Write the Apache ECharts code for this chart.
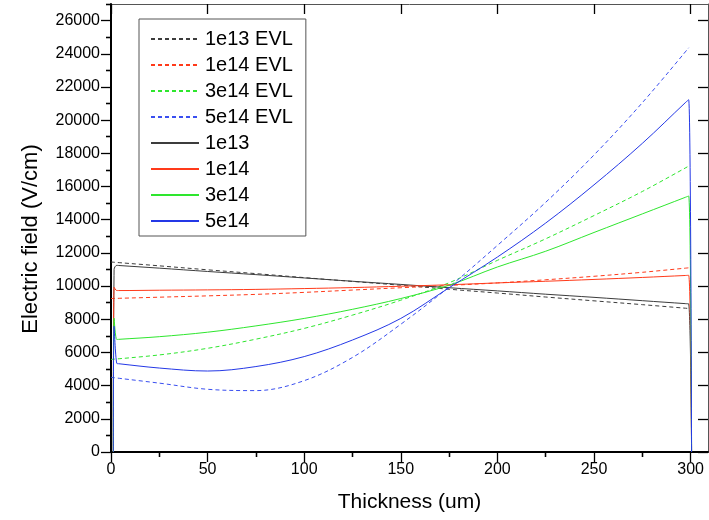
<!DOCTYPE html>
<html><head><meta charset="utf-8">
<script src="https://cdn.jsdelivr.net/npm/echarts@6/dist/echarts.min.js"></script>
<style>html,body{margin:0;padding:0;background:#fff}#c{width:709px;height:520px}</style>
</head><body><div id="c"></div>
<script>
// ---- data ----
const xEVL = [0, 25, 50, 75, 100, 125, 150, 175, 200, 225, 250, 275, 299];
const evl1e13 = [11450, 11220, 10980, 10750, 10510, 10280, 10050, 9810, 9580, 9340, 9110, 8880, 8650];
const evl1e14 = [9250, 9330, 9410, 9500, 9620, 9760, 9900, 10040, 10190, 10380, 10590, 10830, 11100];
const evl3e14 = [5580, 5850, 6250, 6800, 7450, 8250, 9150, 10200, 11550, 12850, 14250, 15700, 17230];
const evl5e14 = [4500, 4150, 3780, 3700, 4300, 5700, 7700, 9950, 12450, 15050, 17900, 21050, 24360];

const xSim = [1.2, 1.6, 3, 4, 25, 50, 75, 100, 125, 150, 175, 200, 225, 250, 275, 297.5, 299, 300.5];
const sim1e13 = [0, 11000, 11250, 11240, 11080, 10880, 10690, 10490, 10290, 10100, 9900, 9710, 9510, 9320, 9120, 8940, 8930, 0];
const sim1e14 = [0, 9930, 9730, 9730, 9750, 9770, 9800, 9850, 9910, 9990, 10080, 10190, 10290, 10400, 10520, 10640, 10650, 0];
const sim3e14 = [0, 8060, 6780, 6790, 6950, 7220, 7600, 8050, 8600, 9250, 10050, 11150, 12100, 13230, 14350, 15360, 15430, 0];
const sim5e14 = [0, 7580, 5340, 5320, 5060, 4880, 5150, 5750, 6750, 8050, 9900, 11750, 13800, 16100, 18600, 21080, 21230, 0];

const xMajor = [0, 50, 100, 150, 200, 250, 300];
const xMinor = [25, 75, 125, 175, 225, 275];
const yMajor = [0, 2000, 4000, 6000, 8000, 10000, 12000, 14000, 16000, 18000, 20000, 22000, 24000, 26000];
const yMinor = [1000, 3000, 5000, 7000, 9000, 11000, 13000, 15000, 17000, 19000, 21000, 23000, 25000, 27000];

const seriesNames = ['1e13 EVL', '1e14 EVL', '3e14 EVL', '5e14 EVL', '1e13', '1e14', '3e14', '5e14'];
const seriesColors = ['#3c3c3c', '#ff3a1a', '#2ee62e', '#3a4ff0', '#3c3c3c', '#ff3a1a', '#2ee62e', '#2438e6'];

// ---- chart ----
const F = '"Liberation Sans", Arial, sans-serif';
const pts = (xs, ys) => xs.map((x, i) => [x, ys[i]]);
const dataSets = [pts(xEVL, evl1e13), pts(xEVL, evl1e14), pts(xEVL, evl3e14), pts(xEVL, evl5e14),
  pts(xSim, sim1e13), pts(xSim, sim1e14), pts(xSim, sim3e14), pts(xSim, sim5e14)];

const XMIN = 0, XMAX = 309, YMIN = 0, YMAX = 27000;
const plain = v => String(v);

function xAx(pos, ticks, len, inside, line, labels, extra) {
  return Object.assign({
    type: 'value', position: pos, min: XMIN, max: XMAX,
    axisLine: line ? { show: true, onZero: false, lineStyle: line } : { show: false },
    axisTick: { show: true, inside: inside, length: len, customValues: ticks, lineStyle: { color: '#000', width: 1.3 } },
    axisLabel: labels ? { show: true, customValues: ticks, formatter: plain, fontSize: 16, color: '#000', fontFamily: F, margin: 10 } : { show: false },
    splitLine: { show: false }, minorTick: { show: false }
  }, extra || {});
}
function yAx(pos, ticks, len, inside, line, labels, extra) {
  return Object.assign({
    type: 'value', position: pos, min: YMIN, max: YMAX,
    axisLine: line ? { show: true, onZero: false, lineStyle: line } : { show: false },
    axisTick: { show: true, inside: inside, length: len, customValues: ticks, lineStyle: { color: '#000', width: 1.3 } },
    axisLabel: labels ? { show: true, customValues: ticks, formatter: plain, fontSize: 16, color: '#000', fontFamily: F, margin: 11 } : { show: false },
    splitLine: { show: false }, minorTick: { show: false }
  }, extra || {});
}

const option = {
  animation: false,
  backgroundColor: '#fff',
  grid: { left: 111, right: 1, top: 4, bottom: 68, containLabel: false },
  legend: {
    orient: 'vertical', left: 139, top: 19,
    data: seriesNames,
    itemWidth: 48, itemHeight: 20, itemGap: 6,
    padding: [10, 13, 5, 11],
    borderColor: '#555', borderWidth: 1, backgroundColor: '#fff',
    selectedMode: false,
    itemStyle: { opacity: 0 },
    textStyle: { fontSize: 20, fontFamily: F, color: '#000', padding: [0, 0, 0, 1] }
  },
  graphic: [{
    type: 'text', x: 31, y: 239, rotation: Math.PI / 2, silent: true,
    style: { text: 'Electric field (V/cm)', fontSize: 22, fontFamily: F, fill: '#000', align: 'center', verticalAlign: 'middle' }
  }],
  xAxis: [
    xAx('bottom', xMajor, 10, false, { color: '#000', width: 2 }, true, {
      name: 'Thickness (um)', nameLocation: 'middle', nameGap: 40,
      nameTextStyle: { fontSize: 21, fontFamily: F, color: '#000' }
    }),
    xAx('bottom', xMinor, 5, false, null, false),
    xAx('top', xMajor, 10, true, { color: '#555', width: 1 }, false),
    xAx('top', xMinor, 5, true, null, false)
  ],
  yAxis: [
    yAx('left', yMajor, 10, false, { color: '#000', width: 2 }, true),
    yAx('left', yMinor, 5, false, null, false),
    yAx('right', yMajor, 10, true, { color: '#555', width: 1 }, false),
    yAx('right', yMinor, 5, true, null, false)
  ],
  series: seriesNames.map((name, i) => ({
    name: name, type: 'line', xAxisIndex: 0, yAxisIndex: 0,
    data: dataSets[i], symbol: 'none', showSymbol: false,
    smooth: 0.35, clip: true,
    lineStyle: { color: seriesColors[i], width: 1, type: i < 4 ? [4, 3] : 'solid' },
    itemStyle: { color: seriesColors[i] },
    z: i < 4 ? 2 : 3
  }))
};

const chart = echarts.init(document.getElementById('c'), null, { renderer: 'canvas' });
chart.setOption(option);
</script></body></html>
